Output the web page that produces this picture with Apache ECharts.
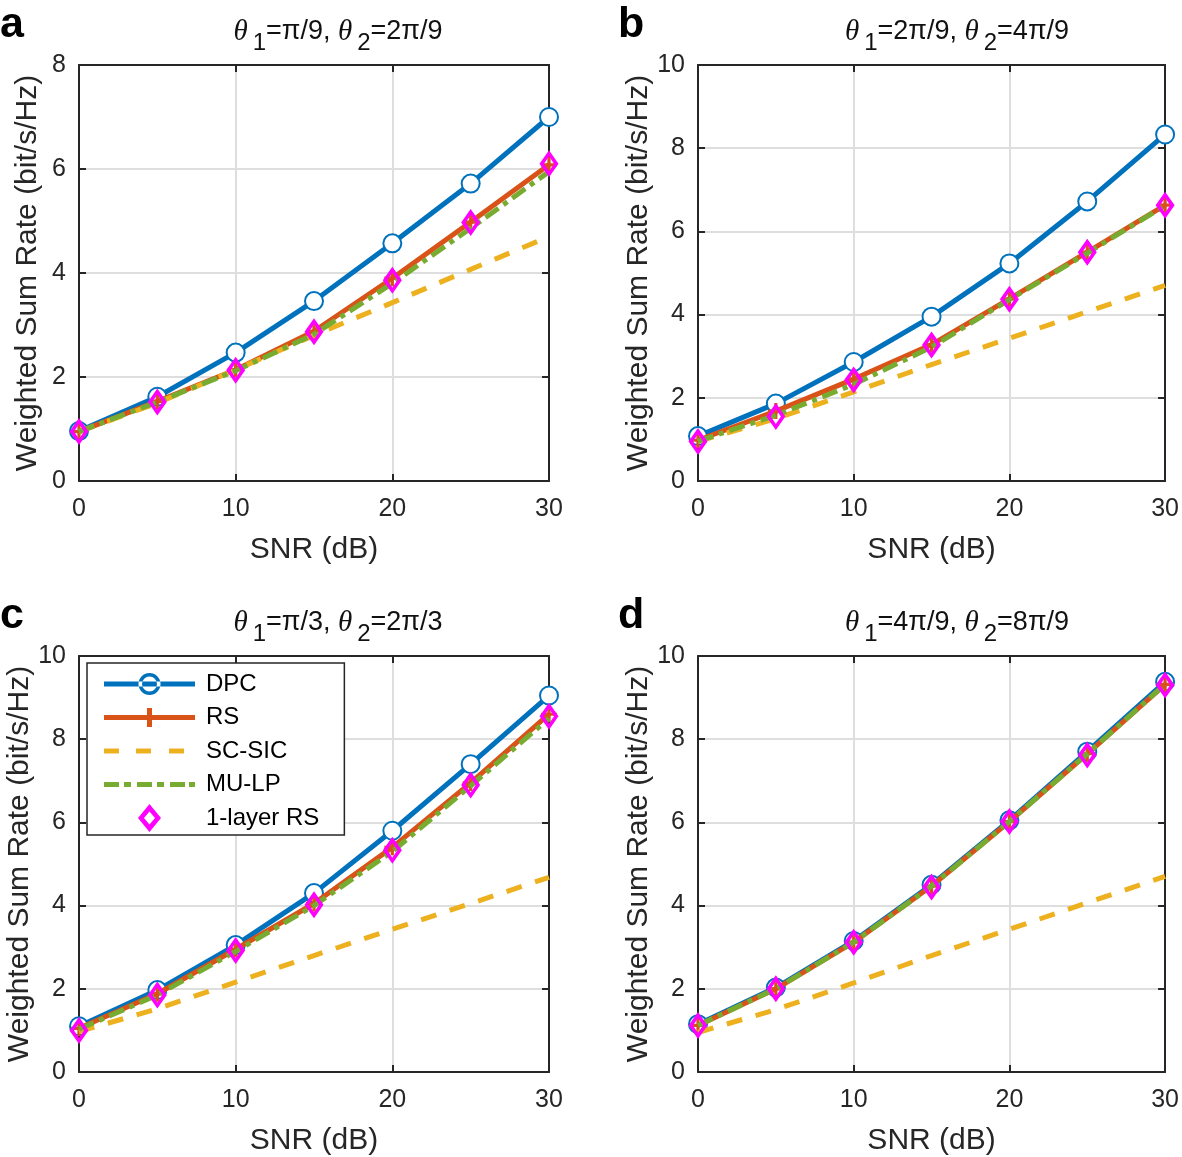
<!DOCTYPE html>
<html><head><meta charset="utf-8">
<script src="https://cdn.jsdelivr.net/npm/echarts@6/dist/echarts.min.js"></script>
<style>html,body{margin:0;padding:0;background:#fff}#c{width:1182px;height:1157px}</style>
</head><body><div id="c"></div>
<script>
const snr = [0, 5, 10, 15, 20, 25, 30];
const xTicks = [0, 10, 20, 30];
const panelLetters = ['a', 'b', 'c', 'd'];
const titleParts = [['π/9', '2π/9'], ['2π/9', '4π/9'], ['π/3', '2π/3'], ['4π/9', '8π/9']];
const yMax = [8, 10, 10, 10];
const seriesNames = ['DPC', 'RS', 'SC-SIC', 'MU-LP', '1-layer RS'];

// panel a
const a_DPC = [0.96, 1.62, 2.47, 3.46, 4.57, 5.72, 7.0];
const a_RS = [0.95, 1.53, 2.14, 2.88, 3.9, 4.98, 6.08];
const a_SCSIC = [0.95, 1.5, 2.14, 2.8, 3.43, 4.07, 4.7];
const a_MULP = [0.95, 1.52, 2.12, 2.82, 3.8, 4.86, 5.95];
const a_1L = [0.95, 1.52, 2.13, 2.87, 3.86, 4.97, 6.1];
// panel b
const b_DPC = [1.08, 1.86, 2.86, 3.95, 5.23, 6.72, 8.33];
const b_RS = [0.98, 1.68, 2.45, 3.28, 4.38, 5.5, 6.63];
const b_SCSIC = [0.95, 1.5, 2.14, 2.8, 3.43, 4.07, 4.7];
const b_MULP = [0.96, 1.58, 2.32, 3.22, 4.36, 5.48, 6.62];
const b_1L = [0.95, 1.55, 2.43, 3.27, 4.37, 5.5, 6.63];
// panel c
const c_DPC = [1.1, 1.97, 3.05, 4.3, 5.8, 7.4, 9.05];
const c_RS = [1.05, 1.88, 2.95, 4.05, 5.4, 6.95, 8.6];
const c_SCSIC = [0.97, 1.52, 2.16, 2.8, 3.43, 4.05, 4.68];
const c_MULP = [1.03, 1.85, 2.9, 4.0, 5.3, 6.88, 8.5];
const c_1L = [1.0, 1.85, 2.92, 4.02, 5.33, 6.9, 8.55];
// panel d
const d_DPC = [1.15, 2.03, 3.15, 4.5, 6.05, 7.7, 9.38];
const d_RS = [1.12, 2.0, 3.12, 4.47, 6.02, 7.65, 9.32];
const d_SCSIC = [0.95, 1.5, 2.14, 2.8, 3.43, 4.07, 4.7];
const d_MULP = [1.12, 2.0, 3.12, 4.47, 6.02, 7.65, 9.32];
const d_1L = [1.12, 2.0, 3.12, 4.45, 6.02, 7.62, 9.3];

const panelData = [
  [a_DPC, a_RS, a_SCSIC, a_MULP, a_1L],
  [b_DPC, b_RS, b_SCSIC, b_MULP, b_1L],
  [c_DPC, c_RS, c_SCSIC, c_MULP, c_1L],
  [d_DPC, d_RS, d_SCSIC, d_MULP, d_1L]
];

const FONT = '"Liberation Sans", Arial, Helvetica, sans-serif';
const SERIF = '"Liberation Serif", "Times New Roman", serif';
const INK = '#262626';
const colors = ['#0072BD', '#D95319', '#EDB120', '#77AC30', '#FF00FF'];
const plusPath = 'path://M4,0L6,0L6,4L10,4L10,6L6,6L6,10L4,10L4,6L0,6L0,4L4,4Z';
const diamondRing = 'path://M0,-13.5L9.5,0L0,13.5L-9.5,0Z M0,-7.5L-5,0L0,7.5L5,0Z';

// legend icons drawn in a 91x28 box (corner points fix the bounding box)
const BOX = 'M0,0L0,0Z M91,28L91,28Z ';
const legendIcons = [
  'path://' + BOX + 'M0,11.5L91,11.5L91,16.5L0,16.5Z M56.5,14A11,11 0 1,0 34.5,14A11,11 0 1,0 56.5,14Z M53,14A7.5,7.5 0 1,1 38,14A7.5,7.5 0 1,1 53,14Z',
  'path://' + BOX + 'M0,11.5L91,11.5L91,16.5L0,16.5Z M43,4.5L48,4.5L48,23.5L43,23.5Z',
  'path://' + BOX + 'M0,11.5L15,11.5L15,16.5L0,16.5Z M32,11.5L47,11.5L47,16.5L32,16.5Z M65,11.5L80,11.5L80,16.5L65,16.5Z',
  'path://' + BOX + 'M0,11.5L15,11.5L15,16.5L0,16.5Z M20,11.5L27,11.5L27,16.5L20,16.5Z M33,11.5L48,11.5L48,16.5L33,16.5Z M53,11.5L60,11.5L60,16.5L53,16.5Z M66,11.5L81,11.5L81,16.5L66,16.5Z M85,11.5L91,11.5L91,16.5L85,16.5Z',
  'path://' + BOX + 'M45.5,0L57,14L45.5,28L34,14Z M45.5,7.5L40,14L45.5,20.5L51,14Z'
];

const gridPos = [
  {left: 79, top: 65, width: 470, height: 416},
  {left: 698, top: 65, width: 470, height: 416},
  {left: 79, top: 656, width: 470, height: 416},
  {left: 698, top: 656, width: 470, height: 416}
];

const grids = [], xAxes = [], yAxes = [], series = [], graphics = [];
gridPos.forEach((g, i) => {
  grids.push(Object.assign({show: false, containLabel: false}, g));
  xAxes.push({
    type: 'value', gridIndex: i, min: 0, max: 30, interval: 10,
    name: 'SNR (dB)', nameLocation: 'middle', nameGap: 54,
    nameTextStyle: {fontFamily: FONT, fontSize: 30, color: INK},
    axisLine: {show: true, onZero: false, lineStyle: {color: INK, width: 2}},
    axisTick: {show: true, inside: true, length: 7, lineStyle: {color: INK, width: 2}},
    axisLabel: {fontFamily: FONT, fontSize: 25, color: INK, margin: 16},
    splitLine: {show: true, lineStyle: {color: '#dedede', width: 2}}
  });
  xAxes.push({
    type: 'value', gridIndex: i, min: 0, max: 30, interval: 10, position: 'top',
    axisLine: {show: true, onZero: false, lineStyle: {color: INK, width: 2}},
    axisTick: {show: true, inside: true, length: 7, lineStyle: {color: INK, width: 2}},
    axisLabel: {show: false}, splitLine: {show: false}
  });
  yAxes.push({
    type: 'value', gridIndex: i, min: 0, max: yMax[i], interval: 2,
    name: 'Weighted Sum Rate (bit/s/Hz)', nameLocation: 'middle', nameGap: 36,
    nameTextStyle: {fontFamily: FONT, fontSize: 30, color: INK},
    axisLine: {show: true, onZero: false, lineStyle: {color: INK, width: 2}},
    axisTick: {show: true, inside: true, length: 7, lineStyle: {color: INK, width: 2}},
    axisLabel: {fontFamily: FONT, fontSize: 25, color: INK, margin: 13},
    splitLine: {show: true, lineStyle: {color: '#dedede', width: 2}}
  });
  yAxes.push({
    type: 'value', gridIndex: i, min: 0, max: yMax[i], interval: 2, position: 'right',
    axisLine: {show: true, onZero: false, lineStyle: {color: INK, width: 2}},
    axisTick: {show: true, inside: true, length: 7, lineStyle: {color: INK, width: 2}},
    axisLabel: {show: false}, splitLine: {show: false}
  });
  const tp = titleParts[i];
  graphics.push({
    type: 'text', x: g.left + g.width / 2 + 24, y: (i < 2 ? 18 : 609),
    style: {
      text: '{t|θ}{s|1}{n|=' + tp[0] + ', }{t|θ}{s|2}{n|=' + tp[1] + '}',
      align: 'center', verticalAlign: 'top',
      rich: {
        t: {fontFamily: SERIF, fontStyle: 'italic', fontWeight: 'normal', fontSize: 29, fill: '#111', lineHeight: 28, verticalAlign: 'top'},
        n: {fontFamily: FONT, fontWeight: 'normal', fontSize: 27, fill: '#111', lineHeight: 28, verticalAlign: 'top'},
        s: {fontFamily: FONT, fontWeight: 'normal', fontSize: 24, fill: '#111', lineHeight: 37, verticalAlign: 'bottom', padding: [0, 0, 0, 5]}
      }
    }
  });
  graphics.push({
    type: 'text', left: i % 2 === 0 ? 0 : 618, top: i < 2 ? 4 : 595,
    style: {text: panelLetters[i], fontFamily: FONT, fontWeight: 'bold', fontSize: 43, fill: '#000'}
  });
  const d = panelData[i];
  const pts = arr => snr.map((x, k) => [x, arr[k]]);
  series.push({
    name: 'DPC', type: 'line', xAxisIndex: 2 * i, yAxisIndex: 2 * i, data: pts(d[0]),
    symbol: 'emptyCircle', symbolSize: 18, z: 2,
    itemStyle: {color: colors[0], borderWidth: 4},
    lineStyle: {color: colors[0], width: 5}
  });
  series.push({
    name: 'RS', type: 'line', xAxisIndex: 2 * i, yAxisIndex: 2 * i, data: pts(d[1]),
    symbol: plusPath, symbolSize: 16, z: 3,
    itemStyle: {color: colors[1]},
    lineStyle: {color: colors[1], width: 5}
  });
  series.push({
    name: 'SC-SIC', type: 'line', xAxisIndex: 2 * i, yAxisIndex: 2 * i, data: pts(d[2]),
    symbol: 'none', z: 4,
    itemStyle: {color: colors[2]},
    lineStyle: {color: colors[2], width: 5, type: [16, 14]}
  });
  series.push({
    name: 'MU-LP', type: 'line', xAxisIndex: 2 * i, yAxisIndex: 2 * i, data: pts(d[3]),
    symbol: 'none', z: 5,
    itemStyle: {color: colors[3]},
    lineStyle: {color: colors[3], width: 5, type: [16, 6, 5, 6]}
  });
  series.push({
    name: '1-layer RS', type: 'line', xAxisIndex: 2 * i, yAxisIndex: 2 * i, data: pts(d[4]),
    symbol: diamondRing, symbolSize: [19, 27], z: 6,
    itemStyle: {color: colors[4]},
    lineStyle: {color: colors[4], width: 0, opacity: 0}
  });
});

const chart = echarts.init(document.getElementById('c'), null, {renderer: 'canvas'});
chart.setOption({
  animation: false,
  backgroundColor: '#fff',
  grid: grids,
  xAxis: xAxes,
  yAxis: yAxes,
  series: series,
  graphic: graphics,
  legend: {
    data: seriesNames.map((n, k) => ({name: n, icon: legendIcons[k], itemStyle: {color: colors[k], borderWidth: 0}})),
    orient: 'vertical', left: 87, top: 663,
    padding: [7, 25, 3, 17], itemWidth: 91, itemHeight: 28, itemGap: 5.5,
    backgroundColor: '#fff', borderColor: INK, borderWidth: 1.5, borderRadius: 0,
    selectedMode: false,
    textStyle: {fontFamily: FONT, fontSize: 24, color: '#000', padding: [0, 0, 0, 6]}
  }
});
</script></body></html>
